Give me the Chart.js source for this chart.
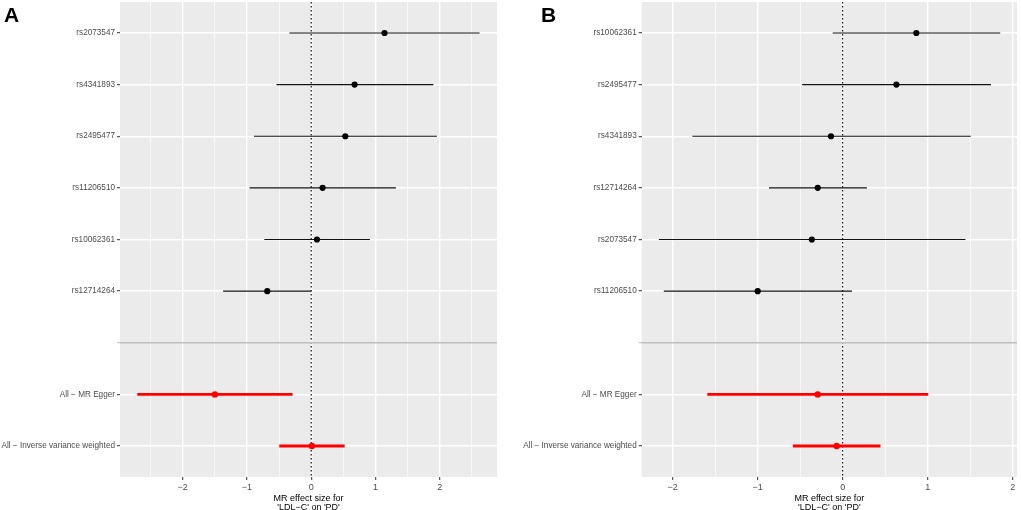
<!DOCTYPE html>
<html>
<head>
<meta charset="utf-8">
<script src="https://cdn.jsdelivr.net/npm/chart.js@4"></script>
<style>
  body { margin: 0; background: #fff; font-family: "Liberation Sans", Arial, sans-serif; overflow: hidden; }
  .panel { position: absolute; top: -2px; }
  .tag { position: absolute; top: 3px; font-weight: bold; font-size: 21px; }
</style>
</head>
<body>
<div class="panel" style="left:0"><canvas id="chartA" width="510" height="512"></canvas></div>
<div class="panel" style="left:510px"><canvas id="chartB" width="511" height="512"></canvas></div>
<div class="tag" style="left:4px">A</div>
<div class="tag" style="left:541px">B</div>
<script>
(function () {
    // 行ラベル (上から順に)
    const rowsA = ['rs2073547', 'rs4341893', 'rs2495477', 'rs11206510', 'rs10062361', 'rs12714264', '', 'All − MR Egger', 'All − Inverse variance weighted'];
    const rowsB = ['rs10062361', 'rs2495477', 'rs4341893', 'rs12714264', 'rs2073547', 'rs11206510', '', 'All − MR Egger', 'All − Inverse variance weighted'];

    // 推定値と信頼区間
    const estA = [1.14, 0.675, 0.53, 0.177, 0.089, -0.684, null, -1.498, 0.01];
    const loA = [-0.34, -0.54, -0.89, -0.96, -0.73, -1.37, null, -2.706, -0.497];
    const hiA = [2.62, 1.90, 1.955, 1.317, 0.913, 0.0, null, -0.29, 0.52];

    const estB = [0.866, 0.632, -0.137, -0.293, -0.363, -0.999, null, -0.293, -0.07];
    const loB = [-0.117, -0.476, -1.767, -0.866, -2.161, -2.103, null, -1.592, -0.585];
    const hiB = [1.853, 1.744, 1.506, 0.285, 1.444, 0.109, null, 1.007, 0.445];

    // x 軸の範囲と目盛
    const xRangeA = [-2.975, 2.89];
    const xRangeB = [-2.363, 2.05];
    const xTicks = [-2, -1, 0, 1, 2];

    const sepIndex = 6;
    const axisTitle = ['MR effect size for', "'LDL−C' on 'PD'"];

    function isMethod(i) { return i > sepIndex; }

    // 背景とグレーの区切り線
    const ggPanel = {
        id: 'ggPanel',
        beforeDraw(chart) {
            const a = chart.chartArea;
            const ctx = chart.ctx;
            ctx.save();
            ctx.fillStyle = '#EBEBEB';
            ctx.fillRect(a.left, a.top, a.right - a.left, a.bottom - a.top);
            ctx.restore();
        },
        afterDatasetsDraw(chart) {
            const a = chart.chartArea;
            const ctx = chart.ctx;
            const y = chart.scales.y.getPixelForValue(sepIndex);
            ctx.save();
            ctx.strokeStyle = '#BEBEBE';
            ctx.lineWidth = 1.6;
            ctx.beginPath();
            ctx.moveTo(a.left, y);
            ctx.lineTo(a.right, y);
            ctx.stroke();
            ctx.restore();
        },
    };

    function build(canvasId, rows, est, lo, hi, xRange, yWidth, padRight) {
        const datasets = [];
        const snpPts = [];
        const methodPts = [];
        est.forEach((v, i) => {
            if (v == null) return;
            (isMethod(i) ? methodPts : snpPts).push({ x: v, y: i });
        });
        // 点
        datasets.push({
            data: snpPts,
            pointRadius: 3.1,
            pointBackgroundColor: '#000',
            pointBorderWidth: 0,
            showLine: false,
        });
        datasets.push({
            data: methodPts,
            pointRadius: 3.2,
            pointBackgroundColor: '#FF0000',
            pointBorderWidth: 0,
            showLine: false,
        });
        // エラーバー
        rows.forEach((r, i) => {
            if (est[i] == null) return;
            datasets.push({
                data: [{ x: lo[i], y: i }, { x: hi[i], y: i }],
                showLine: true,
                borderColor: isMethod(i) ? '#FF0000' : '#111',
                borderWidth: isMethod(i) ? 2.8 : 1.1,
                pointRadius: 0,
            });
        });
        // 0 の点線
        datasets.push({
            data: [{ x: 0, y: -0.6 }, { x: 0, y: rows.length - 0.4 }],
            showLine: true,
            borderColor: '#000',
            borderWidth: 1.1,
            borderDash: [1.5, 2.5],
            pointRadius: 0,
        });

        const ctx = document.getElementById(canvasId).getContext('2d');
        new Chart(ctx, {
            type: 'scatter',
            data: { datasets: datasets },
            plugins: [ggPanel],
            options: {
                responsive: false,
                animation: false,
                layout: { padding: { top: 0, right: padRight, left: 0, bottom: 0 } },
                plugins: { legend: { display: false }, tooltip: { enabled: false } },
                scales: {
                    x: {
                        type: 'linear',
                        min: xRange[0],
                        max: xRange[1],
                        border: { display: false },
                        grid: {
                            color: '#FFFFFF',
                            lineWidth: (c) => (c.tick && Number.isInteger(c.tick.value) ? 1.4 : 0.7),
                            tickColor: (c) => (c.tick && Number.isInteger(c.tick.value) ? '#333333' : 'rgba(0,0,0,0)'),
                            tickLength: 3,
                            tickWidth: 1,
                        },
                        ticks: {
                            stepSize: 0.5,
                            includeBounds: false,
                            autoSkip: false,
                            maxRotation: 0,
                            padding: 2,
                            color: '#4D4D4D',
                            font: { family: 'Liberation Sans', size: 9 },
                            callback: (v) => (xTicks.includes(v) ? String(v).replace('-', '−') : ''),
                        },
                        title: {
                            display: true,
                            text: axisTitle,
                            color: '#000',
                            font: { family: 'Liberation Sans', size: 9, lineHeight: 0.95 },
                            padding: { top: 4, bottom: -1.5 },
                        },
                        afterFit(s) { s.height = 33; s.paddingLeft = 0; s.paddingRight = 0; },
                    },
                    y: {
                        type: 'linear',
                        min: -0.6,
                        max: rows.length - 0.4,
                        reverse: true,
                        border: { display: false },
                        grid: {
                            color: (c) => (c.tick && c.tick.value === sepIndex ? 'rgba(0,0,0,0)' : '#FFFFFF'),
                            lineWidth: 1.4,
                            tickColor: (c) => (c.tick && c.tick.value === sepIndex ? '#BEBEBE' : '#333333'),
                            tickLength: 3,
                            tickWidth: 1,
                        },
                        ticks: {
                            stepSize: 1,
                            includeBounds: false,
                            autoSkip: false,
                            padding: 2,
                            color: '#4D4D4D',
                            font: { family: 'Liberation Sans', size: 8.2 },
                            callback: (v) => rows[Math.round(v)] ?? '',
                        },
                        afterFit(s) { s.width = yWidth; s.paddingTop = 0; s.paddingBottom = 0; },
                    },
                },
            },
        });
    }

    build('chartA', rowsA, estA, loA, hiA, xRangeA, 120, 13);
    build('chartB', rowsB, estB, loB, hiB, xRangeB, 131.7, 3);
})();
</script>
</body>
</html>
